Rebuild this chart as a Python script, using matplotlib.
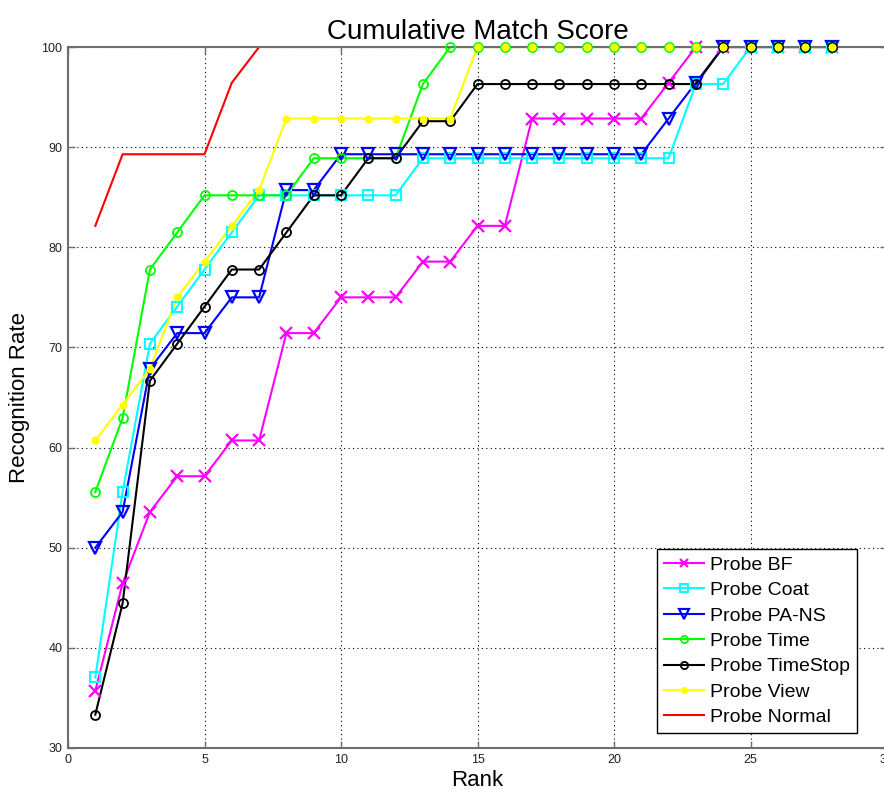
import matplotlib
matplotlib.use("Agg")
import matplotlib.pyplot as plt
from matplotlib.lines import Line2D

plt.rcParams['font.family'] = ['Liberation Sans', 'DejaVu Sans']

ranks = list(range(1, 29))

probe_bf = [35.71, 46.43, 53.57, 57.14, 57.14, 60.71, 60.71, 71.43, 71.43, 75.00,
            75.00, 75.00, 78.57, 78.57, 82.14, 82.14, 92.86, 92.86, 92.86, 92.86,
            92.86, 96.43, 100, 100, 100, 100, 100, 100]
probe_coat = [37.04, 55.56, 70.37, 74.07, 77.78, 81.48, 85.19, 85.19, 85.19, 85.19,
              85.19, 85.19, 88.89, 88.89, 88.89, 88.89, 88.89, 88.89, 88.89, 88.89,
              88.89, 88.89, 96.30, 96.30, 100, 100, 100, 100]
probe_pans = [50.00, 53.57, 67.86, 71.43, 71.43, 75.00, 75.00, 85.71, 85.71, 89.29,
              89.29, 89.29, 89.29, 89.29, 89.29, 89.29, 89.29, 89.29, 89.29, 89.29,
              89.29, 92.86, 96.43, 100, 100, 100, 100, 100]
probe_time = [55.56, 62.96, 77.78, 81.48, 85.19, 85.19, 85.19, 85.19, 88.89, 88.89,
              88.89, 88.89, 96.30, 100, 100, 100, 100, 100, 100, 100,
              100, 100, 100, 100, 100, 100, 100, 100]
probe_timestop = [33.33, 44.44, 66.67, 70.37, 74.07, 77.78, 77.78, 81.48, 85.19, 85.19,
                  88.89, 88.89, 92.59, 92.59, 96.30, 96.30, 96.30, 96.30, 96.30, 96.30,
                  96.30, 96.30, 96.30, 100, 100, 100, 100, 100]
probe_view = [60.71, 64.29, 67.86, 75.00, 78.57, 82.14, 85.71, 92.86, 92.86, 92.86,
              92.86, 92.86, 92.86, 92.86, 100, 100, 100, 100, 100, 100,
              100, 100, 100, 100, 100, 100, 100, 100]
probe_normal = [82.14, 89.29, 89.29, 89.29, 89.29, 96.43, 100, 100, 100, 100,
                100, 100, 100, 100, 100, 100, 100, 100, 100, 100,
                100, 100, 100, 100, 100, 100, 100, 100]

series = [
    ("Probe BF", probe_bf, "#FF00FF", "x", dict(ms=8, mew=1.6)),
    ("Probe Coat", probe_coat, "#00FFFF", "s", dict(ms=7, mew=1.5, mfc="none")),
    ("Probe PA-NS", probe_pans, "#0000FF", "v", dict(ms=8.5, mew=1.6, mfc="none")),
    ("Probe Time", probe_time, "#00FF00", "o", dict(ms=6.5, mew=1.3, mfc="none")),
    ("Probe TimeStop", probe_timestop, "#000000", "o", dict(ms=6.5, mew=1.3, mfc="none")),
    ("Probe View", probe_view, "#FFFF00", (8, 2, 0), dict(ms=5.5, mew=1.5)),
    ("Probe Normal", probe_normal, "#FF0000", None, dict()),
]

fig = plt.figure(figsize=(8.84, 7.93), dpi=100)
ax = fig.add_axes([68 / 884, 45 / 793, 819 / 884, 701 / 793])

handles = []
for name, vals, color, marker, mkw in series:
    # connecting line stays inside the axes box (hidden under the frame at 100)
    ax.plot(ranks, vals, color=color, lw=1.5, clip_on=True, zorder=2)
    if marker is not None:
        # markers sit on top of the frame, as at the 100% row
        ax.plot(ranks, vals, linestyle="none", marker=marker, color=color,
                mec=color, clip_on=False, zorder=3, **mkw)
    lmk = dict(mkw)
    if 'ms' in lmk:
        lmk['ms'] = lmk['ms'] * 0.8
    handles.append(Line2D([], [], color=color, lw=1.5, marker=marker, mec=color, label=name, **lmk))

ax.set_xlim(0, 30)
ax.set_ylim(30, 100)
ax.set_xticks(range(0, 31, 5))
ax.set_yticks(range(30, 101, 10))
ax.grid(True, color="black", linestyle=(0, (1, 3)), linewidth=0.8)
ax.set_axisbelow(True)

for sp in ax.spines.values():
    sp.set_color("#6e6e6e")
    sp.set_linewidth(1.5)
    sp.set_zorder(2.5)

ax.tick_params(direction="in", length=5, width=1, color="#6e6e6e",
               top=True, right=True, labelsize=9, labelcolor="#222222", pad=4)

ax.set_title("Cumulative Match Score", fontsize=20, pad=6)
ax.set_xlabel("Rank", fontsize=16, labelpad=3)
ax.set_ylabel("Recognition Rate", fontsize=16, labelpad=8)

leg = ax.legend(handles=handles, loc="lower left", bbox_to_anchor=(0.719, 0.0214),
                fontsize=14, frameon=True, fancybox=False, framealpha=1,
                edgecolor="black", handlelength=2.1, handletextpad=0.3,
                labelspacing=0.4, borderpad=0.35, borderaxespad=0)
leg.get_frame().set_linewidth(1.0)
leg.set_zorder(5)

fig.savefig("out.png", dpi=100)
